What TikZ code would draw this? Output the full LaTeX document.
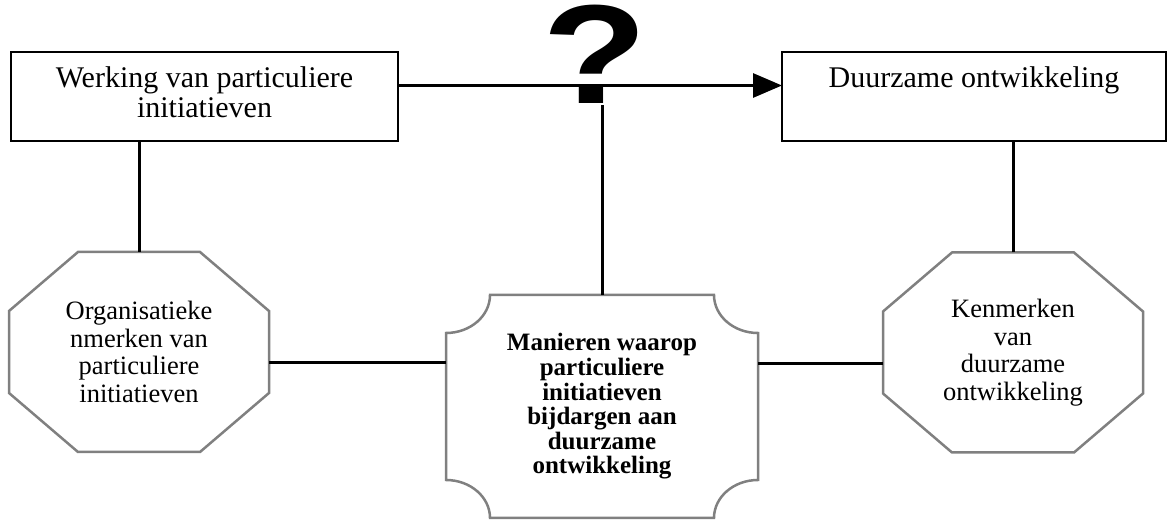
\documentclass[tikz,border=0pt]{standalone}
\usepackage{fontspec}
\usepackage{graphicx}
\setmainfont{Liberation Serif}
\newfontfamily\qmfont{Liberation Sans}
\usetikzlibrary{arrows.meta,positioning}
\definecolor{bordergray}{RGB}{128,128,128}

\begin{document}
\begin{tikzpicture}[x=1pt,y=1pt,line width=3pt,
                    >={Triangle[length=29pt,width=24pt]}]
  \tikzset{frame/.style={draw,line width=2pt,inner sep=0,outer sep=0},
           toptext/.style={anchor=north,align=center,inner sep=0,
                           font=\fontsize{30}{30}\selectfont},
           octtext/.style={align=center,inner sep=0,outer sep=0,
                           minimum width=260,minimum height=200,
                           font=\fontsize{26.5}{27.5}\selectfont},
           grayline/.style={draw=bordergray,line width=2.5pt,line join=miter}}
  \useasboundingbox (0,0) rectangle (1168,522);

  \node[frame,minimum width=387,minimum height=89] (wpi) at (204.5,425.5) {};
  \node[frame,minimum width=384,minimum height=89] (dzo) at (974,425.5) {};
  \node[toptext] (wpitext) [below=13pt of wpi.north,anchor=north]
        {Werking van particuliere\\initiatieven};
  \node[toptext] (dzotext) [below=13pt of dzo.north,anchor=north]
        {Duurzame ontwikkeling};

  \node[octtext] (org) at (139,170)
        {Organisatieke\\nmerken van\\particuliere\\initiatieven};
  \node[octtext] (kdo) at (1013,169.5)
        {Kenmerken\\van\\duurzame\\ontwikkeling};

  \node[align=center,inner sep=0,outer sep=0,minimum width=312,
        minimum height=223,font=\bfseries\fontsize{25}{24.6}\selectfont]
        (mwp) at (602,115.5)
        {Manieren waarop\\particuliere\\initiatieven\\bijdargen aan\\duurzame\\ontwikkeling};

  \node[inner sep=0,anchor=south,font=\qmfont\bfseries\fontsize{141}{141}\selectfont]
        (qm) at (595,417) {\scalebox{1.22}[1]{?}};

  % octagons
  \foreach \o in {org,kdo}
    \draw[grayline] ([xshift=69pt]\o.north west) -- ([xshift=-69pt]\o.north east)
          -- ([yshift=-59pt]\o.north east) -- ([yshift=59pt]\o.south east)
          -- ([xshift=-69pt]\o.south east) -- ([xshift=69pt]\o.south west)
          -- ([yshift=59pt]\o.south west) -- ([yshift=-59pt]\o.north west) -- cycle;

  % box with hollow corners
  \draw[grayline] ([xshift=44pt]mwp.north west) -- ([xshift=-44pt]mwp.north east)
        arc[start angle=180,end angle=270,x radius=44,y radius=38]
        -- ([yshift=38pt]mwp.south east)
        arc[start angle=90,end angle=180,x radius=44,y radius=38]
        -- ([xshift=44pt]mwp.south west)
        arc[start angle=0,end angle=90,x radius=44,y radius=38]
        -- ([yshift=-38pt]mwp.north west)
        arc[start angle=270,end angle=360,x radius=44,y radius=38] -- cycle;

  \draw[->] ([yshift=11pt]wpi.east) -- ([yshift=11pt]dzo.west);
  \draw (mwp.north) -- (mwp.north |- qm.south);
  \draw (org.north) -- (org.north |- wpi.south);
  \draw (kdo.north) -- (kdo.north |- dzo.south);
  \draw ([yshift=-11pt]org.east) -- ([yshift=-11pt]org.east -| mwp.west);
  \draw ([yshift=-11pt]kdo.west) -- ([yshift=-11pt]kdo.west -| mwp.east);
\end{tikzpicture}
\end{document}
